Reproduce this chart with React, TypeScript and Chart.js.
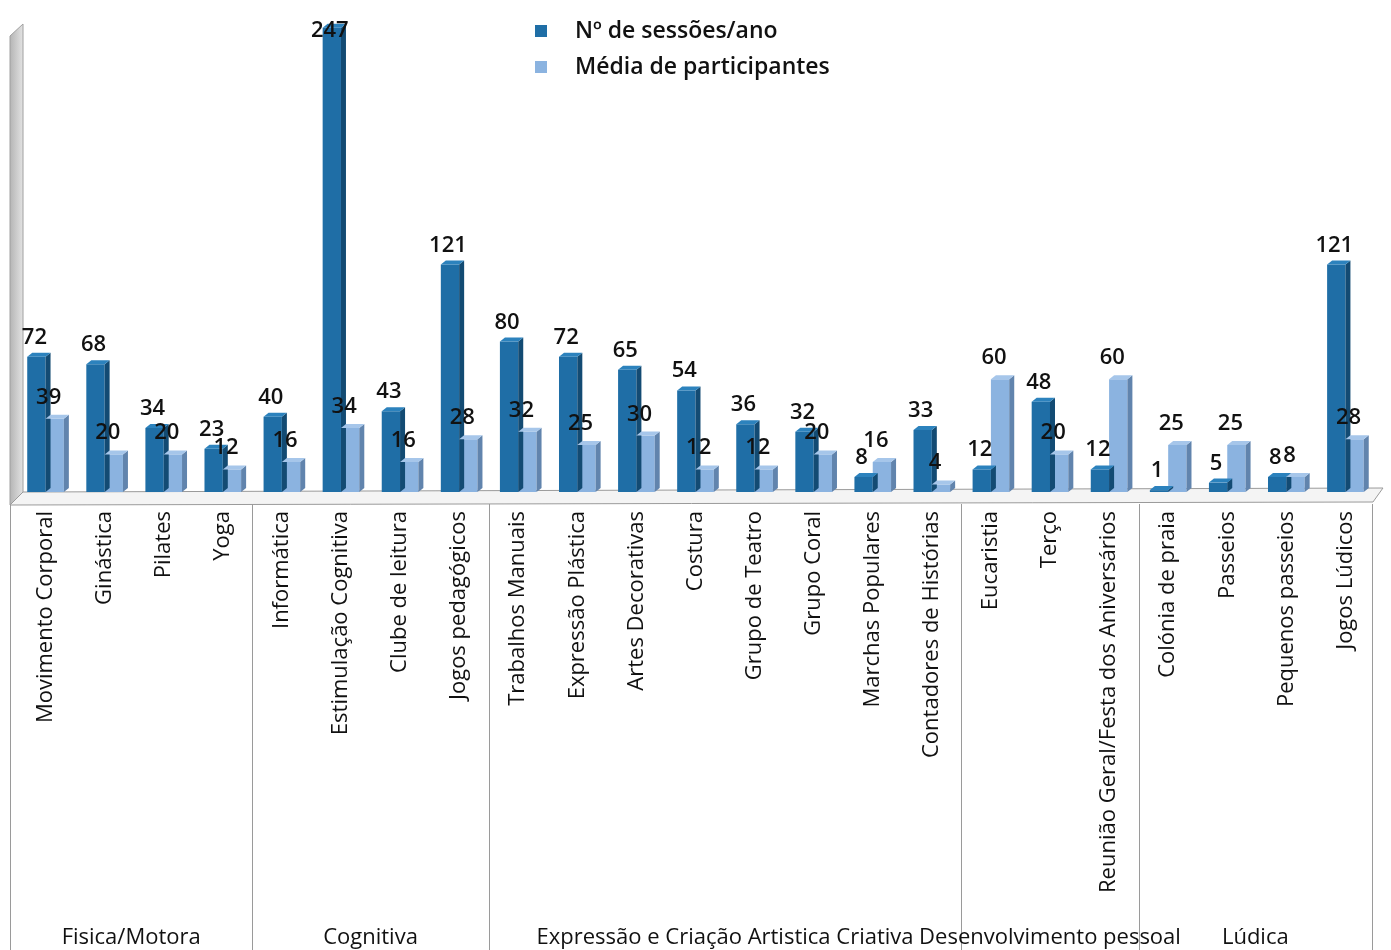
import { useEffect, useRef } from "react";
import { Chart, registerables } from "chart.js";

Chart.register(...registerables);

const categories = [
  "Movimento Corporal", "Ginástica", "Pilates", "Yoga",
  "Informática", "Estimulação Cognitiva", "Clube de leitura", "Jogos pedagógicos",
  "Trabalhos Manuais", "Expressão Plástica", "Artes Decorativas", "Costura",
  "Grupo de Teatro", "Grupo Coral", "Marchas Populares", "Contadores de Histórias",
  "Eucaristia", "Terço", "Reunião Geral/Festa dos Aniversários",
  "Colónia de praia", "Passeios", "Pequenos passeios", "Jogos Lúdicos",
];
const sessions = [72, 68, 34, 23, 40, 247, 43, 121, 80, 72, 65, 54, 36, 32, 8, 33, 12, 48, 12, 1, 5, 8, 121];
const participants = [39, 20, 20, 12, 16, 34, 16, 28, 32, 25, 30, 12, 12, 20, 16, 4, 60, 20, 60, 25, 25, 8, 28];
const seriesNames = ["Nº de sessões/ano", "Média de participantes"];
const groupNames = ["Fisica/Motora", "Cognitiva", "Expressão e Criação Artistica Criativa", "Desenvolvimento pessoal", "Lúdica"];
const groupSizes = [4, 4, 8, 3, 4];

const DARK = "#1f6ea6";
const DARK_SIDE = "#134b73";
const DARK_TOP = "#2c82bd";
const LIGHT = "#8bb3e0";
const LIGHT_SIDE = "#6184ad";
const LIGHT_TOP = "#a6c6ea";
const FONT = "'Open Sans', 'Noto Sans', sans-serif";

const decorPlugin = {
  id: "decor",
  beforeDatasetsDraw(chart: any) {
    const ctx = chart.ctx;
    const area = chart.chartArea;
    const x = chart.scales.x;
    const step = x.getPixelForTick(1) - x.getPixelForTick(0);
    const left = x.getPixelForTick(0) - step / 2;
    const right = x.getPixelForTick(categories.length - 1) + step / 2;
    ctx.save();
    // back wall on the left
    const g = ctx.createLinearGradient(left - 6, 0, left + 8, 0);
    g.addColorStop(0, "#b5b5b5");
    g.addColorStop(1, "#e6e6e6");
    ctx.fillStyle = g;
    ctx.beginPath();
    ctx.moveTo(left - 6, area.top + 14);
    ctx.lineTo(left + 7, area.top + 2);
    ctx.lineTo(left + 7, area.bottom);
    ctx.lineTo(left - 6, area.bottom + 13);
    ctx.closePath();
    ctx.fill();
    ctx.strokeStyle = "#a0a0a0";
    ctx.lineWidth = 1;
    ctx.stroke();
    // floor
    ctx.fillStyle = "#f4f4f4";
    ctx.beginPath();
    ctx.moveTo(left - 6, area.bottom + 13);
    ctx.lineTo(left + 7, area.bottom);
    ctx.lineTo(right + 8, area.bottom - 4);
    ctx.lineTo(right - 2, area.bottom + 10);
    ctx.closePath();
    ctx.fill();
    ctx.strokeStyle = "#9a9a9a";
    ctx.stroke();
    ctx.restore();
  },
  afterDatasetsDraw(chart: any) {
    const ctx = chart.ctx;
    const d = 5;
    ctx.save();
    chart.data.datasets.forEach((ds: any, di: number) => {
      const meta = chart.getDatasetMeta(di);
      meta.data.forEach((el: any, i: number) => {
        const { x, y, base, width } = el.getProps(["x", "y", "base", "width"], true);
        const l = x - width / 2;
        const r = x + width / 2;
        // side face
        ctx.fillStyle = di === 0 ? DARK_SIDE : LIGHT_SIDE;
        ctx.beginPath();
        ctx.moveTo(r, y);
        ctx.lineTo(r + d, y - 4);
        ctx.lineTo(r + d, base - 4);
        ctx.lineTo(r, base);
        ctx.closePath();
        ctx.fill();
        // top face
        ctx.fillStyle = di === 0 ? DARK_TOP : LIGHT_TOP;
        ctx.beginPath();
        ctx.moveTo(l, y);
        ctx.lineTo(l + d, y - 4);
        ctx.lineTo(r + d, y - 4);
        ctx.lineTo(r, y);
        ctx.closePath();
        ctx.fill();
        // value label
        const v = ds.data[i];
        ctx.fillStyle = "#111111";
        ctx.font = `600 22px ${FONT}`;
        ctx.textAlign = "center";
        ctx.textBaseline = "alphabetic";
        if (di === 0) {
          ctx.fillText(String(v), x - 2, Math.max(y - 13, 37));
        } else {
          ctx.fillText(String(v), x - 6, y - 15);
        }
      });
    });
    ctx.restore();
  },
  afterDraw(chart: any) {
    const ctx = chart.ctx;
    const area = chart.chartArea;
    const x = chart.scales.x;
    const step = x.getPixelForTick(1) - x.getPixelForTick(0);
    ctx.save();
    // group dividers and names
    let start = 0;
    const bounds: number[] = [x.getPixelForTick(0) - step / 2 - 6];
    groupSizes.forEach((n) => {
      start += n;
      bounds.push(x.getPixelForTick(start - 1) + step / 2 - (start === categories.length ? 3 : 0));
    });
    ctx.strokeStyle = "#9a9a9a";
    ctx.lineWidth = 1;
    bounds.forEach((b) => {
      ctx.beginPath();
      ctx.moveTo(Math.round(b) + 0.5, area.bottom + 12);
      ctx.lineTo(Math.round(b) + 0.5, chart.height);
      ctx.stroke();
    });
    ctx.fillStyle = "#111111";
    ctx.font = `22px ${FONT}`;
    ctx.textAlign = "center";
    ctx.textBaseline = "alphabetic";
    groupNames.forEach((name, gi) => {
      const cx = (bounds[gi] + bounds[gi + 1]) / 2;
      ctx.fillText(name, cx, 944);
    });
    // legend
    const lx = 535;
    const rows = [31, 67];
    const cols = [DARK, LIGHT];
    ctx.font = `600 23px ${FONT}`;
    ctx.textAlign = "left";
    ctx.textBaseline = "middle";
    seriesNames.forEach((name, i) => {
      ctx.fillStyle = cols[i];
      ctx.fillRect(lx, rows[i] - 6, 12, 12);
      ctx.fillStyle = "#111111";
      ctx.fillText(name, lx + 40, rows[i]);
    });
    ctx.restore();
  },
};

export default function App() {
  const ref = useRef<HTMLCanvasElement>(null);
  useEffect(() => {
    document.body.style.margin = "0";
    const chart = new Chart(ref.current!, {
      type: "bar",
      data: {
        labels: categories,
        datasets: [
          { label: seriesNames[0], data: sessions, backgroundColor: DARK, borderWidth: 0, categoryPercentage: 0.62, barPercentage: 1.0 },
          { label: seriesNames[1], data: participants, backgroundColor: LIGHT, borderWidth: 0, categoryPercentage: 0.62, barPercentage: 1.0 },
        ],
      },
      options: {
        responsive: false,
        animation: false,
        layout: { padding: { left: 16, right: 8, top: 22, bottom: 0 } },
        plugins: { legend: { display: false }, tooltip: { enabled: false } },
        scales: {
          x: {
            grid: { display: false, drawTicks: false },
            border: { display: false },
            ticks: {
              autoSkip: false,
              maxRotation: 90,
              minRotation: 90,
              padding: 19,
              color: "#111111",
              font: { family: FONT, size: 22 },
            },
            afterFit: (scale: any) => {
              scale.height = 458;
            },
          },
          y: {
            display: false,
            min: 0,
            max: 250,
          },
        },
      },
      plugins: [decorPlugin],
    });
    return () => chart.destroy();
  }, []);
  return <canvas ref={ref} width={1391} height={950} style={{ display: "block" }} />;
}
